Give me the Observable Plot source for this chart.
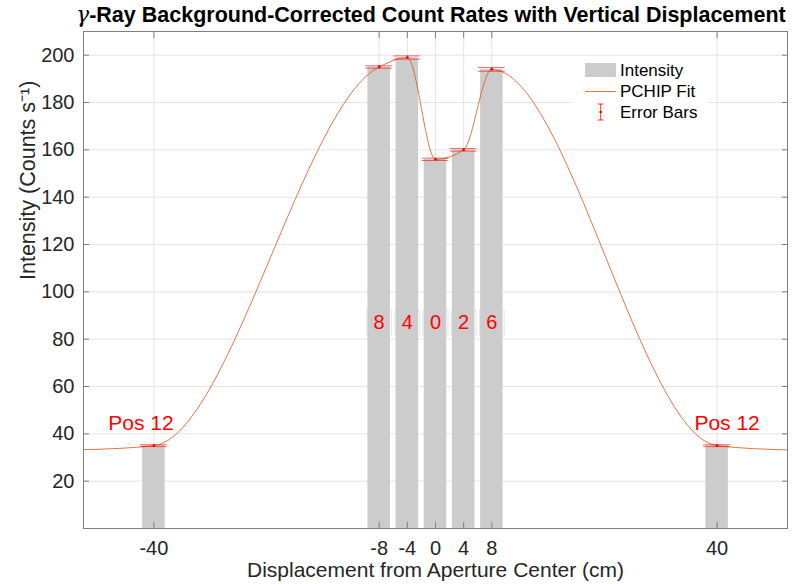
<!DOCTYPE html>
<html><head><meta charset="utf-8">
<script src="https://cdn.jsdelivr.net/npm/d3@7"></script>
<script src="https://cdn.jsdelivr.net/npm/@observablehq/plot@0.6"></script>
<style>
body{margin:0;background:#fff;font-family:"Liberation Sans",Arial,Helvetica,sans-serif;}
#wrap{position:relative;width:792px;height:584px;overflow:hidden;}
#title{height:30px;width:792px;box-sizing:border-box;padding-left:70px;text-align:center;font-weight:bold;font-size:21.5px;line-height:30px;color:#000;white-space:nowrap;}
#legend{position:absolute;left:573px;top:58px;width:135px;height:68px;background:#fff;}
#chart svg{display:block;}
</style></head><body>
<div id="wrap">
  <div id="title"><i style="font-family:'DejaVu Serif',serif;font-weight:normal">γ</i>-Ray Background-Corrected Count Rates with Vertical Displacement</div>
  <div id="chart"></div>
  <div id="legend">
    <svg width="135" height="68" style="font-family:'Liberation Sans',Arial,sans-serif;font-size:17px;fill:#000">
      <rect x="12" y="5" width="31" height="14" fill="#cccccc"></rect>
      <text x="47" y="12.5" dominant-baseline="central">Intensity</text>
      <line x1="12" x2="43" y1="33.5" y2="33.5" stroke="#d95319" stroke-width="0.8"></line>
      <text x="47" y="33.5" dominant-baseline="central">PCHIP Fit</text>
      <line x1="27.7" x2="27.7" y1="46" y2="62" stroke="#ff0000" stroke-width="0.8"></line>
      <line x1="24.8" x2="30.6" y1="46" y2="46" stroke="#ff0000" stroke-width="0.8"></line>
      <line x1="24.8" x2="30.6" y1="62" y2="62" stroke="#ff0000" stroke-width="0.8"></line>
      <circle cx="27.7" cy="54" r="1.3" fill="#ff0000"></circle>
      <text x="47" y="54.7" dominant-baseline="central">Error Bars</text>
    </svg>
  </div>
</div>
<script>
// ---- data ----
const positions = [-40, -8, -4, 0, 4, 8, 40];
const intensity = [35, 195, 199, 156, 160, 194, 35];
const errors = [0.4, 0.5, 0.7, 0.5, 0.55, 0.8, 0.4];
const fitX = [-50, -40, -8, -4, 0, 4, 8, 40, 50];
const fitY = [33.3, 35, 195, 199, 156, 160, 194, 35, 33.2];
const xTicks = [-40, -8, -4, 0, 4, 8, 40];
const xTickLabels = ["-40", "-8", "-4", "0", "4", "8", "40"];
const yTicks = [20, 40, 60, 80, 100, 120, 140, 160, 180, 200];
const barLabelX = [-8, -4, 0, 4, 8];
const barLabelText = ["8", "4", "0", "2", "6"];
const barLabelY = 87;
const posLabelX = [-40, 40];
const posLabelText = ["Pos 12", "Pos 12"];
const posLabelY = 44.5;
const xLabel = "Displacement from Aperture Center (cm)";
const yLabel = "Intensity (Counts s⁻¹)";

// ---- tables ----
const barHalf = 1.6, capHalf = 1.9;
const bars = positions.map((p, i) => ({pos: p, val: intensity[i], err: errors[i]}));
const fit = fitX.map((x, i) => ({x, y: fitY[i]}));
const barLabels = barLabelX.map((x, i) => ({x, t: barLabelText[i]}));
const posLabels = posLabelX.map((x, i) => ({x, t: posLabelText[i]}));

const axisColor = "#7f7f7f", gridColor = "#e4e4e4", textColor = "#262626";
const font = "'Liberation Sans', Arial, Helvetica, sans-serif";

const chart = Plot.plot({
  width: 792, height: 554,
  marginTop: 1, marginBottom: 56, marginLeft: 83, marginRight: 5,
  x: {domain: [-50, 50]},
  y: {domain: [0, 210]},
  style: {fontFamily: font, fontSize: "20px", color: textColor, background: "white", overflow: "visible"},
  marks: [
    Plot.gridX({ticks: xTicks, stroke: gridColor, strokeOpacity: 1}),
    Plot.gridY({ticks: yTicks, stroke: gridColor, strokeOpacity: 1}),
    Plot.dot(barLabels, {x: "x", y: () => barLabelY, symbol: "square", r: 14, fill: "white", stroke: "#d9d9d9", strokeWidth: 0.7}),
    Plot.rectY(bars, {x1: d => d.pos - barHalf, x2: d => d.pos + barHalf, y1: 0, y2: "val", fill: "#cccccc"}),
    Plot.line(fit, {x: "x", y: "y", curve: "monotone-x", stroke: "#d95319", strokeWidth: 0.8}),
    Plot.ruleX(bars, {x: "pos", y1: d => d.val - d.err, y2: d => d.val + d.err, stroke: "#ff0000", strokeWidth: 0.8}),
    Plot.ruleY(bars, {y: d => d.val + d.err, x1: d => d.pos - capHalf, x2: d => d.pos + capHalf, stroke: "#ff0000", strokeOpacity: 0.6, strokeWidth: 1}),
    Plot.ruleY(bars, {y: d => d.val - d.err, x1: d => d.pos - capHalf, x2: d => d.pos + capHalf, stroke: "#ff0000", strokeOpacity: 0.6, strokeWidth: 1}),
    Plot.dot(bars, {x: "pos", y: "val", r: 1.4, fill: "#ff0000", stroke: null}),
    Plot.text(barLabels, {x: "x", y: () => barLabelY, text: "t", fill: "#ff0000", fontSize: 20}),
    Plot.text(posLabels.slice(0, 1), {x: "x", y: () => posLabelY, text: "t", fill: "#ff0000", fontSize: 21, dx: -13}),
    Plot.text(posLabels.slice(1), {x: "x", y: () => posLabelY, text: "t", fill: "#ff0000", fontSize: 21, dx: 10}),
    Plot.axisX({anchor: "bottom", ticks: xTicks, tickSize: -6, tickPadding: 18, stroke: axisColor, fill: textColor, fontSize: 20,
      tickFormat: d => xTickLabels[xTicks.indexOf(d)], label: null}),
    Plot.axisX({anchor: "top", ticks: xTicks, tickSize: -6, stroke: axisColor, tickFormat: () => "", label: null}),
    Plot.axisY({anchor: "left", ticks: yTicks, tickSize: -6, tickPadding: 15, stroke: axisColor, fill: textColor, fontSize: 20,
      tickFormat: d => String(d), label: null}),
    Plot.axisY({anchor: "right", ticks: yTicks, tickSize: -6, stroke: axisColor, tickFormat: () => "", label: null}),
    Plot.text([xLabel], {frameAnchor: "bottom", dy: 42, fontSize: 21, fill: textColor, lineAnchor: "middle"}),
    Plot.text([yLabel], {frameAnchor: "left", rotate: -90, dx: -55, fontSize: 21.5, fill: textColor, lineAnchor: "middle"}),
    Plot.frame({stroke: axisColor, strokeWidth: 1})
  ]
});
document.getElementById("chart").appendChild(chart);
</script>
</body></html>
